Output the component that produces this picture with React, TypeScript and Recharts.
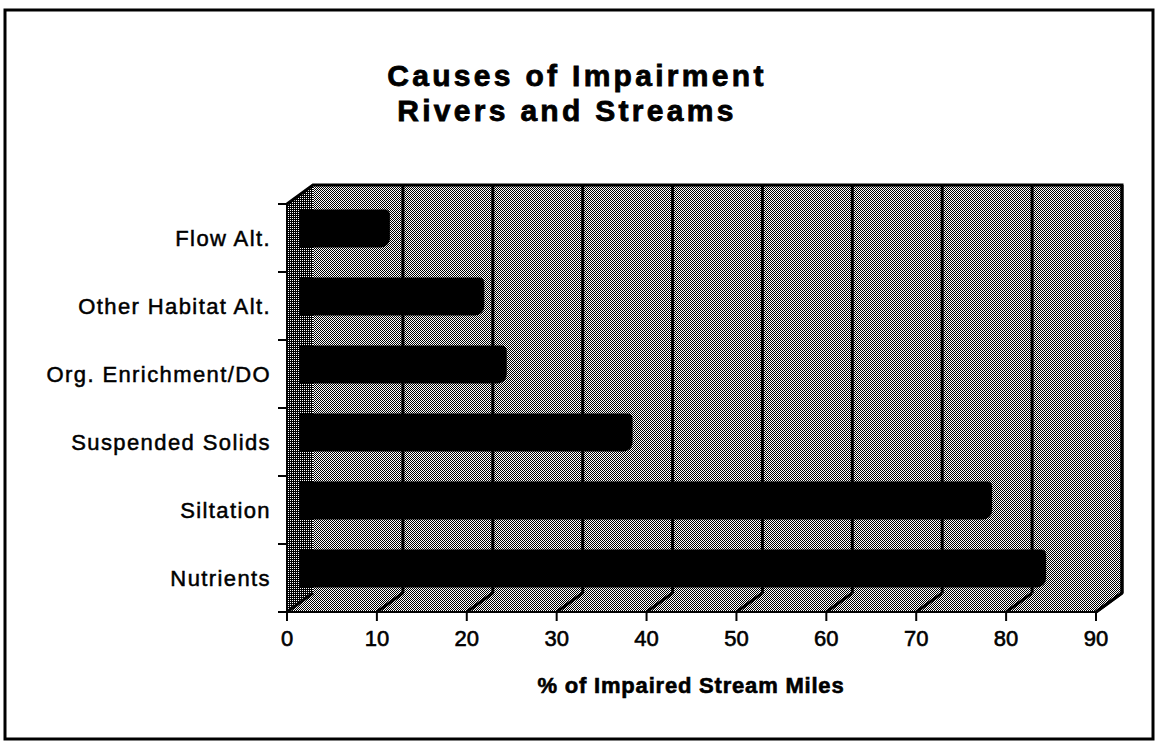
import { BarChart, Bar, XAxis, YAxis, CartesianGrid, Rectangle } from "recharts";

// values
const categories = [
  "Flow Alt.",
  "Other Habitat Alt.",
  "Org. Enrichment/DO",
  "Suspended Solids",
  "Siltation",
  "Nutrients",
];
const impairedPct = [10, 20.5, 23, 37, 77, 83];
const xTicks = [0, 10, 20, 30, 40, 50, 60, 70, 80, 90];

const data = categories.map((name, i) => ({ name, value: impairedPct[i] }));

const W = 1155;
const H = 744;
const FONT = '"Liberation Sans", Arial, Helvetica, sans-serif';

// front plane of the fake 3D box
const LEFT = 287;
const RIGHT = 1096;
const TOP = 204;
const BOTTOM = 612;
// depth offset of the back wall
const DX = 26;
const DY = 19;
const BAND = (BOTTOM - TOP) / categories.length;

const DepthGridLine = (props: any) => {
  const { x1, y1, y2 } = props;
  const atLeftEdge = Math.abs(x1 - LEFT) < 1;
  return (
    <g>
      <line x1={x1} y1={y2} x2={x1 + DX} y2={y2 - DY} stroke="#000" strokeWidth={3} />
      {!atLeftEdge && (
        <line x1={x1 + DX} y1={y1 - DY} x2={x1 + DX} y2={y2 - DY} stroke="#000" strokeWidth={3} />
      )}
    </g>
  );
};

// bars sit halfway into the box depth
const Bar3D = (props: any) => {
  const { x, y, width, height } = props;
  return (
    <Rectangle
      x={x + DX / 2}
      y={y - DY / 2}
      width={width}
      height={height}
      radius={[0, 5, 9, 0]}
      fill="#000"
    />
  );
};

const CategoryTick = (props: any) => {
  const { y, payload, index, visibleTicksCount } = props;
  return (
    <g>
      <text
        x={LEFT - 16}
        y={y}
        dy="0.355em"
        textAnchor="end"
        fontSize={22}
        letterSpacing={1.4}
        fill="#000"
        stroke="#000"
        strokeWidth={0.5}
      >
        {payload.value}
      </text>
      <line x1={LEFT - 9} x2={LEFT} y1={y - BAND / 2} y2={y - BAND / 2} stroke="#000" strokeWidth={2} />
      {index === visibleTicksCount - 1 && (
        <line x1={LEFT - 9} x2={LEFT} y1={y + BAND / 2} y2={y + BAND / 2} stroke="#000" strokeWidth={2} />
      )}
    </g>
  );
};

const Backdrop = () => (
  <svg width={W} height={H} style={{ position: "absolute", left: 0, top: 0 }}>
    <defs>
      <pattern id="dither" width="2" height="2" patternUnits="userSpaceOnUse">
        <rect width="2" height="2" fill="#fff" />
        <rect width="1" height="1" fill="#000" />
        <rect x="1" y="1" width="1" height="1" fill="#000" />
      </pattern>
      <pattern id="darkDither" width="2" height="2" patternUnits="userSpaceOnUse">
        <rect width="2" height="2" fill="#000" />
        <rect width="1" height="1" fill="#fff" />
      </pattern>
    </defs>
    <rect x={5} y={10} width={1148} height={729} fill="#fff" stroke="#000" strokeWidth={3} />

    <text x={577} y={86} textAnchor="middle" fontSize={30} fontWeight="bold" letterSpacing={3.3} stroke="#000" strokeWidth={0.8} fontFamily={FONT}>
      Causes of Impairment
    </text>
    <text x={567} y={121} textAnchor="middle" fontSize={30} fontWeight="bold" letterSpacing={3.3} stroke="#000" strokeWidth={0.8} fontFamily={FONT}>
      Rivers and Streams
    </text>

    {/* back wall */}
    <rect x={LEFT + DX} y={TOP - DY} width={RIGHT - LEFT} height={BOTTOM - TOP} fill="url(#dither)" />
    {/* side wall */}
    <polygon
      points={`${LEFT},${TOP} ${LEFT + DX},${TOP - DY} ${LEFT + DX},${BOTTOM - DY} ${LEFT},${BOTTOM}`}
      fill="url(#darkDither)"
    />
    {/* floor */}
    <polygon
      points={`${LEFT},${BOTTOM} ${LEFT + DX},${BOTTOM - DY} ${RIGHT + DX},${BOTTOM - DY} ${RIGHT},${BOTTOM}`}
      fill="url(#dither)"
    />
    <polyline
      points={`${LEFT},${TOP} ${LEFT + DX},${TOP - DY} ${RIGHT + DX},${TOP - DY} ${RIGHT + DX},${BOTTOM - DY} ${RIGHT},${BOTTOM}`}
      fill="none"
      stroke="#000"
      strokeWidth={3}
    />

    <text x={691} y={693} textAnchor="middle" fontSize={22} fontWeight="bold" letterSpacing={0.8} stroke="#000" strokeWidth={0.6} fontFamily={FONT}>
      % of Impaired Stream Miles
    </text>
  </svg>
);

export default function App() {
  return (
    <div style={{ position: "absolute", left: 0, top: 0, width: W, height: H, background: "#fff" }}>
      <Backdrop />
      <div style={{ position: "absolute", left: 0, top: 0 }}>
        <BarChart
          layout="vertical"
          width={W}
          height={H}
          data={data}
          margin={{ top: TOP, right: W - RIGHT, bottom: H - BOTTOM - 40, left: LEFT - 200 }}
          style={{ fontFamily: FONT }}
        >
          <CartesianGrid horizontal={false} vertical={DepthGridLine} />
          <XAxis
            type="number"
            domain={[0, 90]}
            ticks={xTicks}
            height={40}
            tickSize={9}
            tickMargin={9}
            tick={{ fontSize: 22, fill: "#000", stroke: "#000", strokeWidth: 0.6 }}
            tickLine={{ stroke: "#000", strokeWidth: 2 }}
            axisLine={{ stroke: "#000", strokeWidth: 2 }}
          />
          <YAxis
            type="category"
            dataKey="name"
            width={200}
            tickLine={false}
            tick={CategoryTick}
            axisLine={{ stroke: "#000", strokeWidth: 2 }}
          />
          <Bar dataKey="value" barSize={38} shape={Bar3D} isAnimationActive={false} />
        </BarChart>
      </div>
    </div>
  );
}
